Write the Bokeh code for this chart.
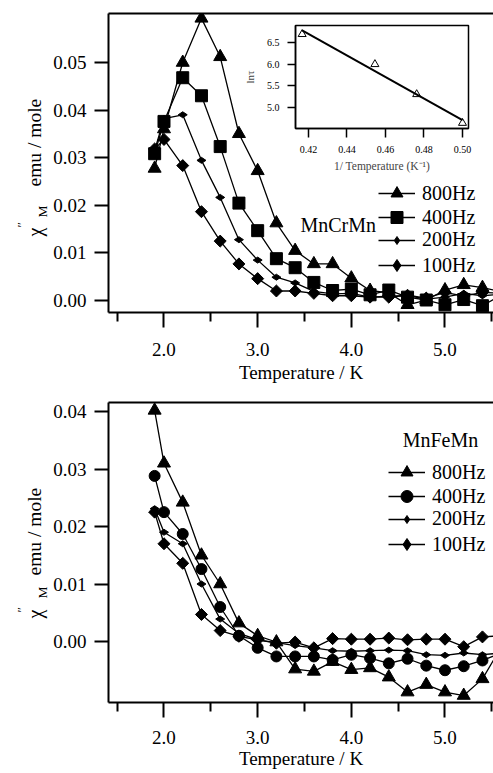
import math
from bokeh.plotting import figure
from bokeh.models import (Range1d, LinearAxis, FixedTicker, PrintfTickFormatter, Label,
                          Legend, LegendItem, GridBox)
from bokeh.core.properties import value
from bokeh.embed import file_html
from bokeh.resources import INLINE

# ---------------- data ----------------
temps = [1.9, 2.0, 2.2, 2.4, 2.6, 2.8, 3.0, 3.2, 3.4, 3.6, 3.8, 4.0, 4.2, 4.4, 4.6, 4.8, 5.0, 5.2, 5.4, 5.6]

cr_800 = [0.0277, 0.0360, 0.0500, 0.0593, 0.0512, 0.0350, 0.0272, 0.0162, 0.0104, 0.0076, 0.0076, 0.0046,
          0.0020, 0.0015, -0.0010, 0.0000, 0.0021, 0.0032, 0.0026, 0.0018]
cr_400 = [0.0308, 0.0376, 0.0468, 0.0430, 0.0323, 0.0204, 0.0146, 0.0087, 0.0068, 0.0037, 0.0020, 0.0023,
          0.0011, 0.0021, 0.0006, 0.0000, -0.0010, 0.0001, -0.0012, 0.0010]
cr_200 = [0.0315, 0.0382, 0.0390, 0.0294, 0.0216, 0.0127, 0.0084, 0.0048, 0.0036, 0.0018, 0.0013, 0.0014,
          0.0006, 0.0008, 0.0009, 0.0002, 0.0006, 0.0014, 0.0009, 0.0012]
cr_100 = [0.0318, 0.0338, 0.0283, 0.0186, 0.0124, 0.0076, 0.0045, 0.0019, 0.0019, 0.0014, 0.0009, 0.0009,
          0.0006, 0.0006, 0.0010, 0.0004, 0.0016, 0.0008, 0.0016, 0.0014]

fe_800 = [0.0402, 0.0310, 0.0242, 0.0150, 0.0100, 0.0032, 0.0010, -0.0001, -0.0048, -0.0052, -0.0035, -0.0049,
          -0.0046, -0.0062, -0.0088, -0.0075, -0.0088, -0.0094, -0.0065, -0.0010]
fe_400 = [0.0288, 0.0225, 0.0187, 0.0126, 0.0060, 0.0010, -0.0011, -0.0026, -0.0026, -0.0026, -0.0032, -0.0023,
          -0.0029, -0.0038, -0.0030, -0.0042, -0.0050, -0.0043, -0.0033, -0.0020]
fe_200 = [0.0231, 0.0190, 0.0170, 0.0100, 0.0039, 0.0014, 0.0003, -0.0002, -0.0007, -0.0011, -0.0016, -0.0017,
          -0.0016, -0.0015, -0.0016, -0.0023, -0.0024, -0.0020, -0.0023, -0.0020]
fe_100 = [0.0225, 0.0170, 0.0136, 0.0047, 0.0019, 0.0009, 0.0003, -0.0003, -0.0001, -0.0011, 0.0005, 0.0004,
          0.0004, 0.0006, 0.0003, 0.0004, 0.0004, -0.0009, 0.0008, 0.0010]

freq_labels = ["800Hz", "400Hz", "200Hz", "100Hz"]

inv_temp = [0.4167, 0.4545, 0.4762, 0.5000]
ln_tau = [6.70, 6.00, 5.30, 4.63]
fit_x = [0.4167, 0.5000]
fit_y = [6.79, 4.70]

x_major = [2.0, 3.0, 4.0, 5.0]
x_minor = [1.5, 2.5, 3.5, 4.5, 5.5]
top_yticks = [0.0, 0.01, 0.02, 0.03, 0.04, 0.05]
bot_yticks = [0.0, 0.01, 0.02, 0.03, 0.04]
inset_xticks = [0.42, 0.44, 0.46, 0.48, 0.50]
inset_yticks = [5.0, 5.5, 6.0, 6.5]

FONT = "Liberation Serif"

TOP_H = 387
BOT_H = 386
TOP_FRAME_BOTTOM = 312
BOT_FRAME_BOTTOM = 702 - TOP_H
LAB_H = 300


def make_main(height, yr, yticks, top_border, bottom_border, s1, s2):
    p = figure(width=493, height=height, output_backend="svg", toolbar_location=None,
               x_range=Range1d(1.4075, 5.5178), y_range=Range1d(*yr),
               min_border_left=108, min_border_right=0,
               min_border_top=top_border, min_border_bottom=bottom_border,
               outline_line_color=None, background_fill_color="white", border_fill_color=None)
    p.xgrid.visible = False
    p.ygrid.visible = False
    xa = p.xaxis[0]
    xa.ticker = FixedTicker(ticks=x_major, minor_ticks=x_minor)
    xa.formatter = PrintfTickFormatter(format="%.1f")
    xa.major_tick_out = 15
    xa.major_tick_in = 0
    xa.minor_tick_out = 9
    xa.minor_tick_in = 0
    xa.axis_line_width = 2
    xa.major_tick_line_width = 2
    xa.minor_tick_line_width = 2
    xa.major_label_text_font = FONT
    xa.major_label_text_font_size = "19px"
    xa.major_label_text_color = "black"
    xa.major_label_standoff = s1
    xa.axis_label = "Temperature / K"
    xa.axis_label_text_font = FONT
    xa.axis_label_text_font_size = "19px"
    xa.axis_label_text_font_style = "normal"
    xa.axis_label_text_color = "black"
    xa.axis_label_standoff = s2

    ya = p.yaxis[0]
    ya.ticker = FixedTicker(ticks=yticks, minor_ticks=[])
    ya.formatter = PrintfTickFormatter(format="%.2f")
    ya.major_tick_out = 14
    ya.major_tick_in = 0
    ya.minor_tick_line_color = None
    ya.axis_line_width = 2
    ya.major_tick_line_width = 2
    ya.major_label_text_font = FONT
    ya.major_label_text_font_size = "19px"
    ya.major_label_text_color = "black"
    ya.major_label_standoff = 8

    top_axis = LinearAxis(ticker=FixedTicker(ticks=[]), major_label_text_font_size="0px",
                          major_tick_out=0, major_tick_in=0, minor_tick_out=0, minor_tick_in=0,
                          axis_line_width=2, major_label_standoff=0)
    p.add_layout(top_axis, "above")
    return p


def add_series(p, ys, marker, size, angle=0.0, legend_marker=None):
    lr = p.line(temps, ys, line_color="black", line_width=1.3)
    sr = p.scatter(temps, ys, marker=marker, size=size, angle=angle,
                   fill_color="black", line_color="black", line_width=1)
    if legend_marker is None:
        return [lr, sr]
    pr = p.scatter(temps, ys, marker=legend_marker, fill_color="black", line_color="black", visible=False)
    return [lr, pr]


def add_legend_rows(p, items, glyph_x, row_centers, frame_bottom, glyph_heights):
    for (lab, rends), c, gh in zip(items, row_centers, glyph_heights):
        rh = max(gh, 20)
        leg = Legend(items=[LegendItem(label=lab, renderers=rends)],
                     location=(glyph_x, frame_bottom - (c + rh / 2.0)),
                     glyph_width=37, glyph_height=gh, label_height=20, spacing=0,
                     label_standoff=7, label_text_font=FONT, label_text_font_size="20px",
                     label_text_color="black", padding=0, margin=0,
                     border_line_color=None, background_fill_alpha=0)
        p.add_layout(leg)


def make_label_fig(ox, oy, chi_y, prime_y, m_y, emu_y):
    """Transparent figure (origin at page px ox, oy) holding the rotated y-axis title pieces."""
    f = figure(width=59, height=LAB_H, output_backend="svg", toolbar_location=None,
               x_range=Range1d(0, 59), y_range=Range1d(0, LAB_H),
               min_border=0, x_axis_type=None, y_axis_type=None,
               outline_line_color=None, background_fill_color=None, border_fill_color=None)
    f.xgrid.visible = False
    f.ygrid.visible = False
    pieces = [(34, chi_y, "χ", "20px"), (21, prime_y, "″", "13px"),
              (42, m_y, "M", "13.5px"), (34, emu_y, "emu / mole", "19.5px")]
    for x, y, t, s in pieces:
        f.text(x=[x - ox], y=[LAB_H - (y - oy)], text=[t], angle=math.pi / 2,
               text_font=value(FONT), text_font_size=s,
               text_align="left", text_baseline="alphabetic", text_color="black")
    return f


# ---------------- top panel ----------------
top = make_main(TOP_H, (-0.00263, 0.06032), top_yticks, 13, 75, 15, 3)
r800 = add_series(top, cr_800, "triangle", 13)
r400 = add_series(top, cr_400, "square", 12)
r200 = add_series(top, cr_200, "diamond", 9, angle=math.pi / 2)
r100 = add_series(top, cr_100, "square", 8.5, angle=math.pi / 4, legend_marker="diamond")
add_legend_rows(top, list(zip(freq_labels, [r800, r400, r200, r100])), 270,
                [193, 217, 241, 265], TOP_FRAME_BOTTOM, [30, 30, 20, 30])
top.add_layout(Label(x=192, y=88, x_units="screen", y_units="screen", text="MnCrMn",
                     text_font=FONT, text_font_size="20px", text_baseline="middle", text_color="black"))
lab_top = make_label_fig(1, 1, 236, 227, 217, 186)

# ---------------- bottom panel ----------------
bot = make_main(BOT_H, (-0.01061, 0.04157), bot_yticks, 15, 71, 13, 1)
b800 = add_series(bot, fe_800, "triangle", 13)
b400 = add_series(bot, fe_400, "circle", 11)
b200 = add_series(bot, fe_200, "diamond", 9, angle=math.pi / 2)
b100 = add_series(bot, fe_100, "square", 8.5, angle=math.pi / 4, legend_marker="diamond")
add_legend_rows(bot, list(zip(freq_labels, [b800, b400, b200, b100])), 280,
                [472 - TOP_H, 496 - TOP_H, 520 - TOP_H, 544 - TOP_H], BOT_FRAME_BOTTOM, [30, 30, 20, 30])
bot.add_layout(Label(x=332, y=263, x_units="screen", y_units="screen", text="MnFeMn",
                     text_font=FONT, text_font_size="20px", text_align="center",
                     text_baseline="middle", text_color="black"))
lab_bot = make_label_fig(1, 388, 618, 612, 598, 575)

# ---------------- inset ----------------
inset = figure(width=235, height=162, output_backend="svg", toolbar_location=None,
               x_range=Range1d(0.41325, 0.50312), y_range=Range1d(4.503, 6.903),
               min_border_left=55, min_border_right=7, min_border_top=7, min_border_bottom=52,
               outline_line_color="black", outline_line_width=1.5,
               background_fill_color="white", border_fill_color=None)
inset.xgrid.visible = False
inset.ygrid.visible = False
ix = inset.xaxis[0]
ix.ticker = FixedTicker(ticks=inset_xticks, minor_ticks=[])
ix.formatter = PrintfTickFormatter(format="%.2f")
ix.major_tick_out = 9
ix.major_tick_in = 0
ix.minor_tick_line_color = None
ix.axis_line_width = 1.5
ix.major_tick_line_width = 1.5
ix.major_label_text_font = FONT
ix.major_label_text_font_size = "10px"
ix.major_label_text_color = "black"
ix.major_label_standoff = 8
ix.axis_label = "1/ Temperature (K⁻¹)"
ix.axis_label_text_font = FONT
ix.axis_label_text_font_size = "11.5px"
ix.axis_label_text_font_style = "normal"
ix.axis_label_standoff = 4
iy = inset.yaxis[0]
iy.ticker = FixedTicker(ticks=inset_yticks, minor_ticks=[])
iy.formatter = PrintfTickFormatter(format="%.1f")
iy.major_tick_out = 8
iy.major_tick_in = 0
iy.minor_tick_line_color = None
iy.axis_line_width = 1.5
iy.major_tick_line_width = 1.5
iy.major_label_text_font = FONT
iy.major_label_text_font_size = "10px"
iy.major_label_text_color = "black"
iy.major_label_standoff = 8
iy.axis_label = "lnτ"
iy.axis_label_text_font = FONT
iy.axis_label_text_font_size = "11px"
iy.axis_label_text_font_style = "normal"
iy.axis_label_standoff = 8
inset.line(fit_x, fit_y, line_color="black", line_width=2)
inset.scatter(inv_temp, ln_tau, marker="triangle", size=8, fill_color=None, line_color="black", line_width=1)

# grid track lines (px): rows 0,1,18,180,301,387,388,688,773 ; cols 0,1,60,240,475,493
# overlay figures never share a start/end line with the main figures
grid = GridBox(children=[(top, 0, 0, 5, 5), (lab_top, 1, 1, 3, 1), (inset, 2, 3),
                         (bot, 5, 0, 3, 5), (lab_bot, 6, 1)],
               rows=["1px", "17px", "162px", "121px", "86px", "1px", "300px", "85px"],
               cols=["1px", "59px", "180px", "235px", "18px"])

open("out.html", "w").write(file_html(grid, INLINE))
